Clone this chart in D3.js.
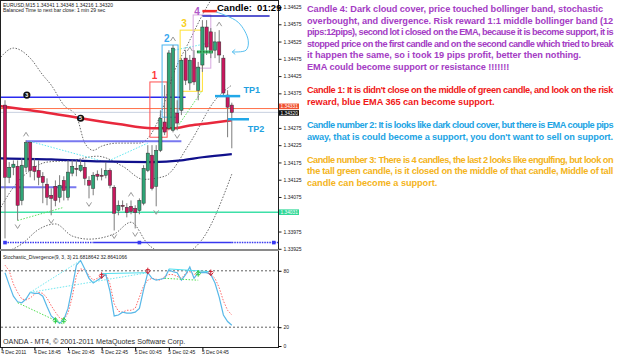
<!DOCTYPE html>
<html>
<head>
<meta charset="utf-8">
<script src="https://cdn.jsdelivr.net/npm/d3@7"></script>
<style>
  body { margin: 0; background: #fff; }
  svg { display: block; }
</style>
</head>
<body>
<svg id="chart" width="625" height="357"></svg>
<script>
// EURUSD M15, one value per bar (bar 0 = leftmost visible bar)
const opens  = [1.34341,1.34132,1.34161,1.34164,1.34065,1.34161,1.34233,1.34164,1.34152,1.34135,1.34112,1.34080,1.34106,1.34074,1.34123,1.34074,1.34144,1.34158,1.34152,1.34161,1.34123,1.34100,1.34141,1.34138,1.34138,1.34152,1.34103,1.34036,1.34051,1.34045,1.34048,1.34042,1.34036,1.34057,1.34152,1.34196,1.34106,1.34210,1.34292,1.34274,1.34268,1.34318,1.34326,1.34477,1.34405,1.34477,1.34384,1.34457,1.34567,1.34553,1.34500,1.34524,1.34477,1.34370,1.34341]
const highs  = [1.34355,1.34176,1.34181,1.34181,1.34187,1.34239,1.34236,1.34187,1.34181,1.34147,1.34129,1.34100,1.34123,1.34138,1.34135,1.34181,1.34181,1.34181,1.34181,1.34176,1.34135,1.34147,1.34152,1.34158,1.34176,1.34158,1.34109,1.34065,1.34065,1.34057,1.34065,1.34051,1.34071,1.34167,1.34225,1.34225,1.34225,1.34326,1.34399,1.34500,1.34515,1.34355,1.34477,1.34500,1.34486,1.34500,1.34466,1.34587,1.34587,1.34564,1.34553,1.34558,1.34486,1.34384,1.34348]
const lows   = [1.33955,1.34115,1.34138,1.34007,1.34051,1.34147,1.34132,1.34123,1.34109,1.34057,1.34051,1.34022,1.34048,1.34059,1.34065,1.34065,1.34135,1.34135,1.34147,1.34109,1.34071,1.34080,1.34123,1.34123,1.34129,1.34100,1.33978,1.34022,1.34036,1.34016,1.34025,1.33984,1.34025,1.34051,1.34147,1.34094,1.34048,1.34205,1.34254,1.34268,1.34262,1.34268,1.34312,1.34399,1.34384,1.34399,1.34355,1.34437,1.34486,1.34477,1.34477,1.34463,1.34370,1.34248,1.34216]
const closes = [1.34132,1.34161,1.34170,1.34051,1.34167,1.34233,1.34152,1.34149,1.34132,1.34117,1.34074,1.34071,1.34065,1.34109,1.34094,1.34147,1.34164,1.34155,1.34167,1.34129,1.34109,1.34138,1.34135,1.34136,1.34152,1.34109,1.34028,1.34051,1.34048,1.34030,1.34033,1.34030,1.34065,1.34158,1.34202,1.34100,1.34210,1.34303,1.34263,1.34492,1.34506,1.34289,1.34471,1.34413,1.34471,1.34408,1.34451,1.34567,1.34509,1.34492,1.34524,1.34486,1.34376,1.34335,1.34320]

// moving averages and bands, read at some bars: [bar, price]
const emaRed  = [[-1,1.34338],[9,1.34321],[18,1.34303],[27,1.34286],[35,1.34274],[40,1.34274],[44,1.34282],[49,1.34289],[54,1.34297]]
const emaBlue = [[-1,1.34187],[11,1.34184],[23,1.34178],[35,1.34176],[42,1.34181],[47,1.34190],[54,1.34199]]
const bandUpper = [[-1,1.34480],[2,1.34506],[6,1.34477],[9,1.34428],[11,1.34399],[14,1.34341],[17,1.34309],[19,1.34231],[21,1.34210],[23,1.34222],[27,1.34231],[32,1.34231],[34,1.34245],[37,1.34312],[40,1.34428],[44,1.34529],[47,1.34602],[49,1.34645]]
const bandMid = [[-1,1.34045],[2,1.34103],[6,1.34152],[10,1.34176],[16,1.34181],[22,1.34193],[28,1.34164],[33,1.34126],[38,1.34135],[44,1.34231],[50,1.34355],[54,1.34399]]
const bandLower = [[-1,1.33910],[4,1.33939],[8,1.33981],[12,1.33997],[16,1.33962],[20,1.33953],[26,1.33968],[30,1.34002],[34,1.33939],[37,1.33916],[42,1.33910],[47,1.33953],[54,1.34141]]

// stochastic (9,3,3)
const stochMain   = [78,65,53,47,46,50,57,56,56,53,42,32,28,24,28,40,62,86,91,82,72,67,70,73,76,58,32,33,36,35,35,36,40,60,78,72,70,71,72,81,79,78,70,76,84,72,78,78,78,76,67,52,33,26,22]
const stochSignal = [86,80,66,57,50,49,51,55,57,56,51,43,36,30,28,35,52,75,82,81,75,70,72,75,77,66,45,37,36,38,38,40,52,64,70,72,71,70,74,76,76,74,72,77,79,76,78,79,78,76,72,62,48,38,33]

const priceTicks = [1.34625,1.34575,1.34525,1.34475,1.34425,1.34375,1.34275,1.34225,1.34175,1.34125,1.34075,1.33975,1.33925]
const timeBars   = [-0.8, 7, 15, 23, 31, 39, 47]
const timeLabels = ['4 Dec 2011','4 Dec 18:45','4 Dec 20:45','4 Dec 22:45','5 Dec 00:45','5 Dec 02:45','5 Dec 04:45']
const stochLevels = [80, 20]
const stochTicks = [80, 20, 0]

const fractalUp   = [5, 30, 40, 44, 51]
const fractalDown = [3, 11, 20, 26, 31, 36, 41]

const svg = d3.select('#chart')
const font = 'Liberation Sans, Arial, sans-serif'

const plot = {left: 1, right: 278, top: 1, bottom: 249}
const sub = {top: 251, bottom: 347}

const x = d3.scaleLinear().domain([0, 54]).range([5, 231.8])
const y = d3.scaleLinear().domain([1.33925, 1.34625]).range([248.8, 7])
const ys = d3.scaleLinear().domain([0, 100]).range([346, 252])

const defs = svg.append('defs')
defs.append('clipPath').attr('id', 'clipPrice')
    .append('rect').attr('x', plot.left).attr('y', plot.top)
    .attr('width', plot.right - plot.left).attr('height', plot.bottom - plot.top)
defs.append('clipPath').attr('id', 'clipStoch')
    .append('rect').attr('x', plot.left).attr('y', sub.top)
    .attr('width', plot.right - plot.left).attr('height', sub.bottom - sub.top)

const gp = svg.append('g').attr('clip-path', 'url(#clipPrice)')
const gs = svg.append('g').attr('clip-path', 'url(#clipStoch)')

const priceLine = d3.line().x(d => x(d[0])).y(d => y(d[1])).curve(d3.curveMonotoneX)

function hline(price, b0, b1, color, width, dash) {
    gp.append('line')
        .attr('x1', b0 === null ? plot.left : x(b0))
        .attr('x2', b1 === null ? plot.right : x(b1))
        .attr('y1', y(price)).attr('y2', y(price))
        .attr('stroke', color).attr('stroke-width', width)
        .attr('stroke-dasharray', dash || null)
}

function renderBands() {
    [bandUpper, bandMid, bandLower].forEach(b => {
        gp.append('path').datum(b)
            .attr('d', priceLine)
            .attr('fill', 'none').attr('stroke', '#6a6a6a')
            .attr('stroke-width', 1).attr('stroke-dasharray', '1.5,1.5')
    })
}

function renderObjects() {
    hline(1.34031, null, null, '#3ee0a8', 1.5)
    hline(1.34331, null, null, '#ff7048', 1)
    hline(1.34320, null, null, '#c8d0e0', 1)
    hline(1.34364, -1, 43, '#2a2af0', 1.5)
    hline(1.34236, 5, 42, '#7878f0', 2)
    hline(1.34103, -1, 17, '#7878f0', 2)

    // channel at the bottom
    hline(1.33943, 0, 21, '#3838f0', 1.5, '1.5,1')
    hline(1.33943, 21, 54, '#3838f0', 1.5)
    hline(1.33943, 54, 65, '#3838f0', 1.5, '1.5,1')
    ;[0, 32, 64].forEach(b => {
        gp.append('rect').attr('x', x(b) - 1.8).attr('y', y(1.33943) - 1.8)
            .attr('width', 3.6).attr('height', 3.6)
            .attr('fill', '#3838f0')
    })

    // divergence lines on price
    const div = [
        {a: [6, 1.34236], b: [24, 1.34176], c: '#60e8f0'},
        {a: [24, 1.34176], b: [34, 1.34231], c: '#60e8f0'},
        {a: [39, 1.34497], b: [50, 1.34524], c: '#60e8f0'},
        {a: [3, 1.34007], b: [14, 1.34045], c: '#60e060'},
        {a: [41, 1.34277], b: [47, 1.34384], c: '#60e060'}
    ]
    div.forEach(d => {
        gp.append('line')
            .attr('x1', x(d.a[0])).attr('y1', y(d.a[1]))
            .attr('x2', x(d.b[0])).attr('y2', y(d.b[1]))
            .attr('stroke', d.c).attr('stroke-width', 1).attr('stroke-dasharray', '1.5,1.5')
    })

    // candle boxes
    const boxes = [
        {b0: 34.5, b1: 38.6, p0: 1.34408, p1: 1.34248, c: '#ff5050'},
        {b0: 37.4, b1: 41.2, p0: 1.34515, p1: 1.34306, c: '#48b4f0'},
        {b0: 41.7, b1: 47.0, p0: 1.34558, p1: 1.34381, c: '#ffe030'},
        {b0: 44.8, b1: 49.0, p0: 1.34602, p1: 1.34448, c: '#d8a8e0'}
    ]
    boxes.forEach(r => {
        gp.append('rect')
            .attr('x', x(r.b0)).attr('y', y(r.p0))
            .attr('width', x(r.b1) - x(r.b0)).attr('height', y(r.p1) - y(r.p0))
            .attr('fill', 'none').attr('stroke', r.c).attr('stroke-width', 1)
    })
}

function renderEma() {
    gp.append('path').datum(emaBlue).attr('d', priceLine)
        .attr('fill', 'none').attr('stroke', '#10108c').attr('stroke-width', 2.2)
    gp.append('path').datum(emaRed).attr('d', priceLine)
        .attr('fill', 'none').attr('stroke', '#e8283c').attr('stroke-width', 2.5)
}

function renderCandles() {
    const bars = d3.range(opens.length)
    gp.selectAll('line.wick').data(bars).enter().append('line')
        .attr('class', 'wick')
        .attr('x1', i => x(i)).attr('x2', i => x(i))
        .attr('y1', i => y(highs[i])).attr('y2', i => y(lows[i]))
        .attr('stroke', '#7c7c7c').attr('stroke-width', 1)
    gp.selectAll('rect.body').data(bars).enter().append('rect')
        .attr('class', 'body')
        .attr('x', i => x(i) - 1.6)
        .attr('y', i => y(Math.max(opens[i], closes[i])))
        .attr('width', 3.2)
        .attr('height', i => Math.max(1, Math.abs(y(opens[i]) - y(closes[i]))))
        .attr('fill', i => closes[i] >= opens[i] ? '#2fa577' : '#c8185e')
        .attr('stroke', '#303030').attr('stroke-width', 0.5)
}

function renderMarkers() {
    const g = gp.append('g').attr('fill', 'none').attr('stroke', '#9a9a9a').attr('stroke-width', 1)
    fractalUp.forEach(i => {
        const cx = x(i), cy = y(highs[i]) - 6
        g.append('path').attr('d', `M${cx - 2.5},${cy + 2}L${cx},${cy - 2}L${cx + 2.5},${cy + 2}`)
    })
    fractalDown.forEach(i => {
        const cx = x(i), cy = y(lows[i]) + 6
        g.append('path').attr('d', `M${cx - 2.5},${cy - 2}L${cx},${cy + 2}L${cx + 2.5},${cy - 2}`)
    })

    // numbered ticket marks
    ;[{b: 5.2, p: 1.34370, t: '3'}, {b: 18, p: 1.34303, t: '5'}].forEach(m => {
        gp.append('circle').attr('cx', x(m.b)).attr('cy', y(m.p)).attr('r', 3.6).attr('fill', '#111')
        gp.append('text').attr('x', x(m.b)).attr('y', y(m.p) + 2)
            .attr('text-anchor', 'middle').attr('fill', '#fff')
            .attr('font-family', font).attr('font-size', 5.5).attr('font-weight', 'bold').text(m.t)
    })

    // candle numbers
    const nums = [
        {b: 35.6, p: 1.34428, t: '1', c: '#ff3a3a'},
        {b: 38.5, p: 1.34535, t: '2', c: '#3aa8f0'},
        {b: 42.6, p: 1.34576, t: '3', c: '#f8d020'},
        {b: 45.7, p: 1.34613, t: '4', c: '#b058c8'}
    ]
    nums.forEach(n => {
        gp.append('text').attr('x', x(n.b)).attr('y', y(n.p) + 3.5)
            .attr('text-anchor', 'middle').attr('fill', n.c)
            .attr('font-family', font).attr('font-size', 10).attr('font-weight', 'bold').text(n.t)
    })

    // entry marks
    hline(1.34613, 47, 50.5, '#f02828', 2.5)
    hline(1.34599, 47, 63, '#2020c0', 1.5)
    hline(1.34495, 45.7, 49.5, '#40c070', 3)
    hline(1.34495, 45.7, 49.5, '#204020', 1, '1.5,1.5')

    // TP marks
    hline(1.34367, 50, 56, '#22a8e8', 2.5)
    hline(1.34300, 53.1, 58.1, '#22a8e8', 2.5)
    ;[{b: 56.8, p: 1.34384, t: 'TP1'}, {b: 57.8, p: 1.34271, t: 'TP2'}].forEach(n => {
        gp.append('text').attr('x', x(n.b)).attr('y', y(n.p) + 3)
            .attr('fill', '#22a0e0').attr('font-family', font)
            .attr('font-size', 9).attr('font-weight', 'bold').text(n.t)
    })

    // hand drawn arrow
    const arrow = [[50.2, 1.34611], [55.5, 1.34581], [57.9, 1.34529], [57.4, 1.34500], [54.1, 1.34495]]
    gp.append('path').datum(arrow)
        .attr('d', d3.line().x(d => x(d[0])).y(d => y(d[1])).curve(d3.curveCatmullRom))
        .attr('fill', 'none').attr('stroke', '#58c0f0').attr('stroke-width', 1)
    const ax = x(54.1), ay = y(1.34495)
    gp.append('path').attr('d', `M${ax + 3},${ay - 2.5}L${ax},${ay}L${ax + 3},${ay + 2.5}`)
        .attr('fill', 'none').attr('stroke', '#58c0f0').attr('stroke-width', 1)
}

function renderStoch() {
    stochLevels.forEach(v => {
        gs.append('line').attr('x1', plot.left).attr('x2', plot.right)
            .attr('y1', ys(v)).attr('y2', ys(v))
            .attr('stroke', '#606060').attr('stroke-dasharray', '2,2')
    })
    const sl = d3.line().x((d, i) => x(i)).y(d => ys(d))
    gs.append('path').datum(stochSignal).attr('d', sl)
        .attr('fill', 'none').attr('stroke', '#ff6a6a').attr('stroke-width', 1).attr('stroke-dasharray', '1.5,1.5')
    gs.append('path').datum(stochMain).attr('d', sl)
        .attr('fill', 'none').attr('stroke', '#58b8e8').attr('stroke-width', 1.2)

    const sline = [
        {a: [6, 57], b: [18, 91], c: '#70e8f0', d: '1.5,1.5'},
        {a: [6, 57], b: [34, 78], c: '#70e8f0', d: '1.5,1.5'},
        {a: [23, 77], b: [34, 78], c: '#50e0f0', d: null},
        {a: [39, 82], b: [49, 79], c: '#50e0f0', d: null},
        {a: [3, 46], b: [14, 23], c: '#50e050', d: '1.5,1.5'},
        {a: [38, 72], b: [46, 70], c: '#50e050', d: '1.5,1.5'}
    ]
    sline.forEach(d => {
        gs.append('line').attr('x1', x(d.a[0])).attr('y1', ys(d.a[1]))
            .attr('x2', x(d.b[0])).attr('y2', ys(d.b[1]))
            .attr('stroke', d.c).attr('stroke-dasharray', d.d)
    })
    const downs = [23, 34, 49], ups = [12, 14, 46]
    downs.forEach(i => {
        const cx = x(i), cy = ys(stochMain[i]) - 2
        gs.append('path').attr('d', `M${cx},${cy - 3}V${cy + 3}M${cx - 2.5},${cy}L${cx},${cy + 3}L${cx + 2.5},${cy}M${cx - 2},${cy - 1}H${cx + 2}`)
            .attr('fill', 'none').attr('stroke', '#d02030').attr('stroke-width', 1)
    })
    ups.forEach(i => {
        const cx = x(i), cy = ys(stochMain[i]) + 1
        gs.append('path').attr('d', `M${cx},${cy - 3}V${cy + 3}M${cx - 2.5},${cy}L${cx},${cy - 3}L${cx + 2.5},${cy}M${cx - 2},${cy + 1}H${cx + 2}`)
            .attr('fill', 'none').attr('stroke', '#30d040').attr('stroke-width', 1)
    })
}

function renderAxes() {
    // frames
    svg.append('rect').attr('x', 0.5).attr('y', 0.5).attr('width', plot.right).attr('height', sub.bottom)
        .attr('fill', 'none').attr('stroke', '#202020')
    svg.append('line').attr('x1', 0).attr('x2', plot.right + 1).attr('y1', 250).attr('y2', 250)
        .attr('stroke', '#8a8a8a').attr('stroke-width', 2)

    const ay = d3.axisRight(y).tickValues(priceTicks).tickSize(3).tickFormat(d3.format('.5f'))
    svg.append('g').attr('transform', `translate(${plot.right + 0.5},0)`).call(ay)
        .call(g => g.select('.domain').remove())
        .call(g => g.selectAll('text').attr('font-size', 5).attr('font-family', font).attr('fill', '#202020').attr('dx', -1))
        .call(g => g.selectAll('line').attr('stroke', '#202020'))

    // current price marks on the axis
    const marks = [
        {p: 1.34331, bg: '#f05030', fg: '#fff', dy: -2.2},
        {p: 1.34320, bg: '#101010', fg: '#fff', dy: 0.6},
        {p: 1.34031, bg: '#30d898', fg: '#fff', dy: 0}
    ]
    marks.forEach(m => {
        const cy = y(m.p) + m.dy
        svg.append('rect').attr('x', plot.right + 1).attr('y', cy - 2.8).attr('width', 20).attr('height', 5.6).attr('fill', m.bg)
        svg.append('text').attr('x', plot.right + 2.5).attr('y', cy + 1.7)
            .attr('fill', m.fg).attr('font-family', font).attr('font-size', 4.8).text(d3.format('.5f')(m.p))
    })

    const as = d3.axisRight(ys).tickValues(stochTicks).tickSize(3)
    svg.append('g').attr('transform', `translate(${plot.right + 0.5},0)`).call(as)
        .call(g => g.select('.domain').remove())
        .call(g => g.selectAll('text').attr('font-size', 5).attr('font-family', font).attr('fill', '#202020').attr('dx', -1))

    const ax = d3.axisBottom(x).tickValues(timeBars).tickSize(3).tickFormat((d, i) => timeLabels[i])
    svg.append('g').attr('transform', `translate(0,${sub.bottom + 0.5})`).call(ax)
        .call(g => g.select('.domain').remove())
        .call(g => g.selectAll('text').attr('font-size', 5).attr('font-family', font).attr('fill', '#202020')
            .attr('text-anchor', 'start').attr('dx', -1).attr('dy', 0.4))

    const small = [
        {x: 3, y: 6.5, t: 'EURUSD,M15  1.34341 1.34348 1.34216 1.34320'},
        {x: 3, y: 12, t: 'Balanced Time to next bar close: 1 min 29 sec'},
        {x: 3, y: 258.5, t: 'Stochastic_Divergence(9, 3, 3) 21.6818642 32.8641066'}
    ]
    small.forEach(s => svg.append('text').attr('x', s.x).attr('y', s.y)
        .attr('font-family', font).attr('font-size', 5).attr('fill', '#202020').text(s.t))
    svg.append('text').attr('x', 3).attr('y', 344).attr('font-family', font).attr('font-size', 7.2)
        .attr('fill', '#303030').text('OANDA - MT4, © 2001-2011 MetaQuotes Software Corp.')

    svg.append('text').attr('x', 217).attr('y', 11).attr('font-family', font).attr('font-size', 9.5)
        .attr('font-weight', 'bold').attr('fill', '#000').attr('xml:space', 'preserve').text('Candle:  01:29')
}

// notes on the right
const notes = [
    {row: 0, color: '#a43cc4', lines: [
        'Candle 4: Dark cloud cover, price touched bollinger band, stochastic',
        'overbought, and divergence. Risk reward 1:1 middle bollinger band (12',
        'pips:12pips), second lot i closed on the EMA, because it is become support, it is',
        'stopped price on the first candle and on the second candle which tried to break',
        'it happen the same, so i took 19 pips profit, better then nothing.',
        'EMA could become support or resistance !!!!!!!']},
    {row: 7, color: '#f01818', lines: [
        "Candle 1: It is didn't close on the middle of green candle, and look on the risk",
        'reward, blue EMA 365 can become support.']},
    {row: 10, color: '#1ca4e4', lines: [
        'Candle number 2: It is looks like dark cloud cover, but there is EMA couple pips',
        "away, that is could become a support, you don't want to sell on support."]},
    {row: 13, color: '#f4b420', lines: [
        'Candle number 3: There is 4 candles, the last 2 looks like engulfing, but look on',
        'the tall green candle, is it closed on the middle of that candle, Middle of tall',
        'candle can become a support.']}
]

function renderNotes() {
    const g = svg.append('g')
    const fs = 9.2
    const texts = []
    notes.forEach(n => {
        n.lines.forEach((t, k) => {
            texts.push(g.append('text').attr('x', 307).attr('y', 12 + (n.row + k) * 11.6)
                .attr('fill', n.color).attr('font-family', font)
                .attr('font-size', fs).attr('font-weight', 'bold').text(t))
        })
    })
    // tracking from the first line, long lines squeezed into the column
    const first = texts[0]
    const ls = (296 - first.node().getComputedTextLength()) / first.text().length
    texts.forEach(t => t.attr('letter-spacing', ls))
    texts.forEach(t => {
        const w = t.node().getComputedTextLength()
        if (w > 307) {
            t.attr('letter-spacing', ls - (w - 306) / t.text().length)
        }
    })
}

renderBands()
renderObjects()
renderEma()
renderCandles()
renderMarkers()
renderStoch()
renderAxes()
renderNotes()
</script>
</body>
</html>
